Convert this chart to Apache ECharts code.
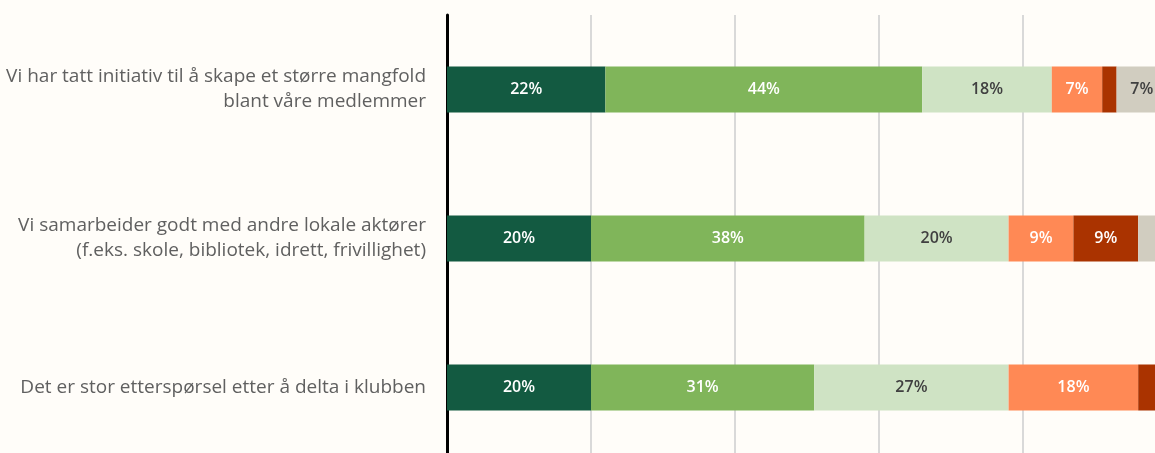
<!DOCTYPE html>
<html>
<head>
<meta charset="utf-8">
<script src="https://cdn.jsdelivr.net/npm/echarts@6/dist/echarts.min.js"></script>
<style>
  html, body { margin: 0; padding: 0; background: #FFFDF9; overflow: hidden; }
  #wrap { width: 1155px; height: 453px; overflow: hidden; }
  /* the plot runs a little past the right and bottom edges of the view */
  #chart { width: 1167px; height: 462px; }
</style>
</head>
<body>
<div id="wrap"><div id="chart"></div></div>
<script>
// Statements, top to bottom
const categories = [
  'Vi har tatt initiativ til å skape et større mangfold\nblant våre medlemmer',
  'Vi samarbeider godt med andre lokale aktører\n(f.eks. skole, bibliotek, idrett, frivillighet)',
  'Det er stor etterspørsel etter å delta i klubben'
];

// Answer shares (%) per statement
const helaEnig     = [22, 20, 20];
const delvisEnig   = [44, 38, 31];
const noytral      = [18, 20, 27];
const delvisUenig  = [7, 9, 18];
const helaUenig    = [2, 9, 3];
const vetIkke      = [7, 4, 1];

const seriesNames = ['Helt enig', 'Delvis enig', 'Verken enig eller uenig', 'Delvis uenig', 'Helt uenig', 'Vet ikke'];
const seriesData = [helaEnig, delvisEnig, noytral, delvisUenig, helaUenig, vetIkke];
const colors = ['#135A41', '#80B55A', '#CFE3C4', '#FF8955', '#AA3300', '#D1CDC0'];
const labelColors = ['#FFFFFF', '#FFFFFF', '#404040', '#FFFFFF', '#FFFFFF', '#404040'];

const chart = echarts.init(document.getElementById('chart'), null, { renderer: 'canvas' });

const series = seriesNames.map((name, i) => ({
  name,
  type: 'bar',
  stack: 'total',
  barWidth: 46,
  itemStyle: { color: colors[i] },
  label: {
    show: true,
    position: 'inside',
    color: labelColors[i],
    fontFamily: 'Open Sans',
    fontSize: 16,
    fontWeight: 600,
    formatter: p => (p.value >= 5 ? p.value + '%' : '')
  },
  data: seriesData[i]
}));

chart.setOption({
  backgroundColor: '#FFFDF9',
  animation: false,
  grid: { left: 447, right: 0, top: 15, bottom: 0, containLabel: false },
  xAxis: {
    type: 'value',
    min: 0,
    max: 100,
    interval: 20,
    axisLabel: { show: false },
    axisLine: { show: false },
    axisTick: { show: false },
    splitLine: { show: true, lineStyle: { color: '#D9D9D9', width: 2 } }
  },
  yAxis: {
    type: 'category',
    inverse: true,
    data: categories,
    axisTick: { show: false },
    axisLine: { show: true, lineStyle: { color: '#000000', width: 3 } },
    axisLabel: {
      margin: 21,
      color: '#606060',
      fontFamily: 'Open Sans',
      fontSize: 19,
      lineHeight: 25,
      align: 'right'
    }
  },
  series
});
</script>
</body>
</html>
